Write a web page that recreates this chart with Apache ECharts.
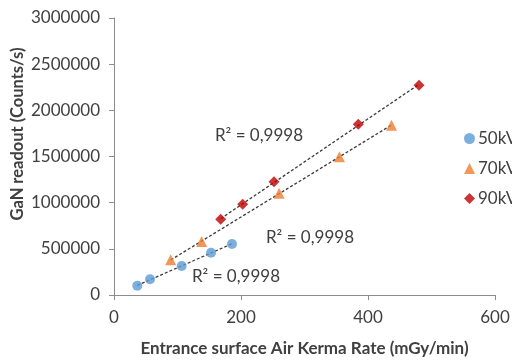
<!DOCTYPE html>
<html>
<head>
<meta charset="utf-8">
<script src="https://cdn.jsdelivr.net/npm/echarts@6/dist/echarts.min.js"></script>
<style>
  html, body { margin: 0; padding: 0; background: #fff; }
  #chart { width: 512px; height: 360px; }
</style>
</head>
<body>
<div id="chart"></div>
<script>
// Entrance surface air kerma rate (mGy/min) vs GaN readout (counts/s)
const kv50X = [36.7, 56.7, 106.6, 152.8, 185.8];
const kv50Y = [100700, 170000, 314000, 458000, 552000];
const kv70X = [89.3, 138, 260, 355, 437];
const kv70Y = [381000, 579000, 1101000, 1497000, 1839000];
const kv90X = [168, 202.7, 252, 384.7, 480.3];
const kv90Y = [821000, 983000, 1227000, 1850000, 2271000];
const seriesNames = ['50kV', '70kV', '90kV'];
const r2Text = 'R² = 0,9998';
const xTicks = { min: 0, max: 600, interval: 200 };
const yTicks = { min: 0, max: 3000000, interval: 500000 };

const FONT = 'Lato, "Liberation Sans", sans-serif';
const TEXT = '#404040';
const AXIS = '#8c8c8c';

function pairs(xs, ys) { return xs.map((x, i) => [x, ys[i]]); }

// least-squares line spanning the data range
function trend(xs, ys) {
  const n = xs.length;
  const mx = xs.reduce((a, b) => a + b, 0) / n;
  const my = ys.reduce((a, b) => a + b, 0) / n;
  let sxy = 0, sxx = 0;
  for (let i = 0; i < n; i++) { sxy += (xs[i] - mx) * (ys[i] - my); sxx += (xs[i] - mx) ** 2; }
  const b = sxy / sxx, a = my - b * mx;
  const x0 = Math.min(...xs), x1 = Math.max(...xs);
  return [[x0, a + b * x0], [x1, a + b * x1]];
}

const trendStyle = { color: '#3a3a3a', width: 1.3, type: [3, 2] };
function trendSeries(xs, ys) {
  return {
    type: 'line', data: trend(xs, ys), symbol: 'none', silent: true,
    lineStyle: trendStyle, z: 1, legendHoverLink: false
  };
}

const chart = echarts.init(document.getElementById('chart'), null, { renderer: 'canvas' });
chart.setOption({
  animation: false,
  backgroundColor: '#fff',
  grid: { left: 114, right: 17, top: 18, bottom: 65, containLabel: false, outerBoundsMode: 'none' },
  xAxis: {
    type: 'value', min: xTicks.min, max: xTicks.max, interval: xTicks.interval,
    name: 'Entrance surface Air Kerma Rate (mGy/min)',
    nameLocation: 'middle', nameGap: 45,
    nameTextStyle: { fontFamily: FONT, fontSize: 17, fontWeight: 'bold', color: TEXT },
    axisLine: { lineStyle: { color: AXIS, width: 1 } },
    axisTick: { show: true, inside: false, length: 5, lineStyle: { color: AXIS } },
    axisLabel: { fontFamily: FONT, fontSize: 17, color: TEXT, margin: 14 },
    splitLine: { show: false }
  },
  yAxis: {
    type: 'value', min: yTicks.min, max: yTicks.max, interval: yTicks.interval,
    axisLine: { show: true, lineStyle: { color: AXIS, width: 1 } },
    axisTick: { show: true, inside: false, length: 5, lineStyle: { color: AXIS } },
    axisLabel: { fontFamily: FONT, fontSize: 17, color: TEXT, margin: 14, formatter: v => String(v) },
    splitLine: { show: false }
  },
  legend: {
    orient: 'vertical', left: 459, top: 125, itemGap: 13,
    itemWidth: 11, itemHeight: 11,
    textStyle: { fontFamily: FONT, fontSize: 17, color: TEXT, padding: [0, 0, 0, -2] },
    data: seriesNames
  },
  series: [
    trendSeries(kv50X, kv50Y),
    trendSeries(kv70X, kv70Y),
    trendSeries(kv90X, kv90Y),
    { name: seriesNames[0], type: 'scatter', data: pairs(kv50X, kv50Y), symbol: 'circle', symbolSize: 10,
      itemStyle: { color: '#5B9BD5' }, z: 3 },
    { name: seriesNames[1], type: 'scatter', data: pairs(kv70X, kv70Y), symbol: 'triangle', symbolSize: 11,
      itemStyle: { color: '#ED7D31' }, z: 3 },
    { name: seriesNames[2], type: 'scatter', data: pairs(kv90X, kv90Y), symbol: 'diamond', symbolSize: 11,
      itemStyle: { color: '#C00000' }, z: 3 }
  ],
  graphic: [
    { type: 'text', x: 18, y: 134, rotation: Math.PI / 2,
      style: { text: 'GaN readout (Counts/s)', font: 'bold 16.5px ' + FONT, fill: TEXT, align: 'center', verticalAlign: 'middle' } },
    { type: 'text', x: 259, y: 136, style: { text: r2Text, font: '17px ' + FONT, fill: TEXT, align: 'center', verticalAlign: 'middle' } },
    { type: 'text', x: 310, y: 238, style: { text: r2Text, font: '17px ' + FONT, fill: TEXT, align: 'center', verticalAlign: 'middle' } },
    { type: 'text', x: 236, y: 277, style: { text: r2Text, font: '17px ' + FONT, fill: TEXT, align: 'center', verticalAlign: 'middle' } }
  ]
});
</script>
</body>
</html>
